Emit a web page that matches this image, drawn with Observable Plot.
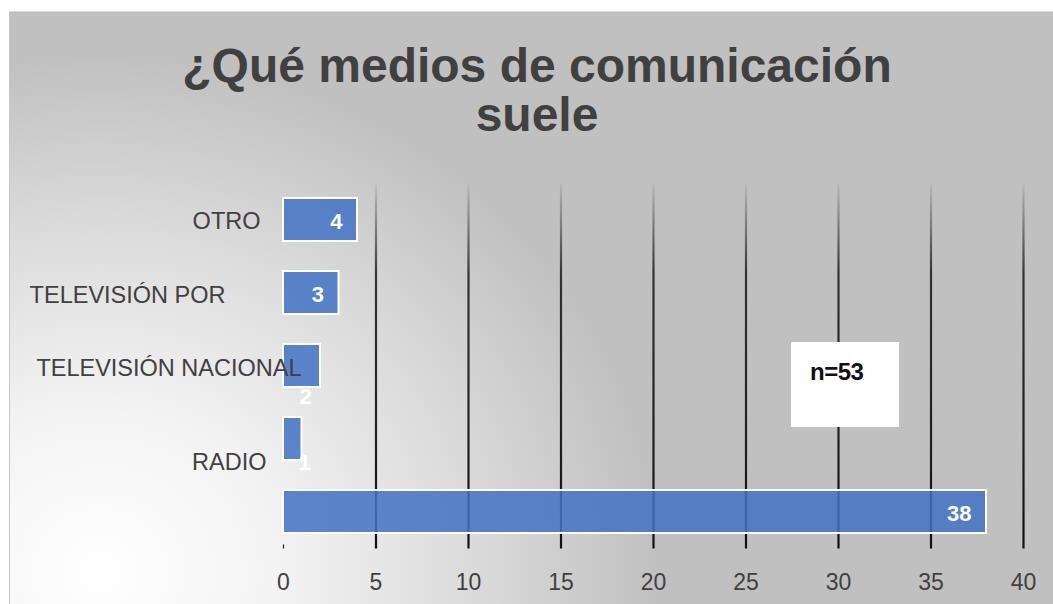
<!DOCTYPE html>
<html>
<head>
<meta charset="utf-8">
<script src="https://cdn.jsdelivr.net/npm/d3@7"></script>
<script src="https://cdn.jsdelivr.net/npm/@observablehq/plot@0.6"></script>
<style>
  html, body { margin: 0; padding: 0; background: #fff; }
  #wrap { position: relative; width: 1053px; height: 604px; overflow: hidden; }
  #bg { position: absolute; left: 9px; top: 11px; right: 0; bottom: 0;
        border-left: 1.5px solid #c8c8c8; border-top: 1.5px solid #dcdcdc;
        background: radial-gradient(ellipse 560px 520px at 90px 560px, #ffffff 0%, #f4f4f4 30%, #dcdcdc 65%, #c0c0c0 100%); }
  #title { position: absolute; left: 0; width: 1074px; top: 41px; text-align: center;
           font-family: "Liberation Sans", Arial, sans-serif; font-weight: bold; font-size: 48px;
           line-height: 49px; color: #404040; }
  #plot { position: absolute; left: 0; top: 0; }
  #nbox { position: absolute; left: 791px; top: 342px; width: 108px; height: 85px; background: #fff;
          font-family: "Liberation Sans", Arial, sans-serif; font-weight: bold; font-size: 24px; color: #111; }
  #nbox span { position: absolute; left: 19px; top: 16px; letter-spacing: -0.5px; }
</style>
</head>
<body>
<div id="wrap">
  <div id="bg"></div>
  <div id="title">¿Qué medios de comunicación<br>suele</div>
  <div id="plot"></div>
  <div id="nbox"><span>n=53</span></div>
</div>
<script>
const categories = ["OTRO", "TELEVISIÓN POR", "TELEVISIÓN NACIONAL", "RADIO", ""];
const values = [4, 3, 2, 1, 38];
const xTicks = [0, 5, 10, 15, 20, 25, 30, 35, 40];
const gridTicks = [5, 10, 15, 20, 25, 30, 35, 40];

const data = categories.map((c, i) => ({cat: c, key: "k" + i, value: values[i]}));
const keys = data.map(d => d.key);
const font = "Liberation Sans, Arial, sans-serif";
const byCat = c => data.filter(d => d.cat === c);

const insideLbl = data.filter(d => ["OTRO", "TELEVISIÓN POR", ""].includes(d.cat));

const valStyle = {text: d => String(d.value), fill: "#fff", fontWeight: "bold", fontSize: 22, fontFamily: font};
const catStyle = {x: 0, y: "key", text: "cat", textAnchor: "end", fill: "#404040", fontSize: 23.5, fontFamily: font};

const plot = Plot.plot({
  width: 1053,
  height: 604,
  marginLeft: 283,
  marginRight: 30,
  marginTop: 183.5,
  marginBottom: 55.5,
  style: {background: "transparent", fontFamily: font},
  x: {domain: [0, 40], ticks: xTicks, label: null},
  y: {domain: keys, paddingInner: 0.41, paddingOuter: 0.205, axis: null},
  marks: [
    Plot.ruleX(gridTicks, {stroke: "url(#gridfade)", strokeWidth: 2.2}),
    Plot.ruleX([0], {stroke: "#222", strokeWidth: 1.2, insetTop: 361}),
    Plot.barX(data, {x: "value", y: "key", fill: "#4472c4", fillOpacity: 0.86, stroke: "#fff", strokeWidth: 2}),
    Plot.text(insideLbl, {x: "value", y: "key", textAnchor: "end", dx: -15, dy: 2, ...valStyle}),
    Plot.text(byCat("TELEVISIÓN NACIONAL"), {x: 0, y: "key", textAnchor: "middle", dx: 22, dy: 31, ...valStyle}),
    Plot.text(byCat("RADIO"), {x: 0, y: "key", textAnchor: "middle", dx: 21, dy: 24, ...valStyle}),
    // category labels
    Plot.text(byCat("OTRO"), {...catStyle, dx: -23, dy: 1}),
    Plot.text(byCat("TELEVISIÓN POR"), {...catStyle, dx: -58, dy: 2}),
    Plot.text(byCat("TELEVISIÓN NACIONAL"), {...catStyle, dx: 18, dy: 2}),
    Plot.text(byCat("RADIO"), {...catStyle, dx: -17, dy: 23}),
    Plot.axisX({ticks: xTicks, tickSize: 0, tickPadding: 25, fontSize: 23, fill: "#404040", label: null, fontFamily: font})
  ]
});

// gradient for grid lines (fade at the top)
const yr = plot.scale("y").range;
const defs = d3.select(plot).insert("defs", ":first-child");
const g = defs.append("linearGradient").attr("id", "gridfade").attr("gradientUnits", "userSpaceOnUse")
  .attr("x1", 0).attr("x2", 0).attr("y1", yr[0]).attr("y2", yr[1]);
g.append("stop").attr("offset", "0%").attr("stop-color", "#222").attr("stop-opacity", 0.05);
g.append("stop").attr("offset", "25%").attr("stop-color", "#222").attr("stop-opacity", 0.9);
g.append("stop").attr("offset", "100%").attr("stop-color", "#111").attr("stop-opacity", 1);

document.getElementById("plot").appendChild(plot);
</script>
</body>
</html>
